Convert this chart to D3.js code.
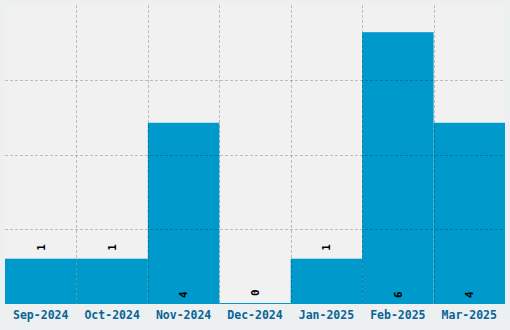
<!DOCTYPE html>
<html>
<head>
<meta charset="utf-8">
<script src="https://cdn.jsdelivr.net/npm/d3@7"></script>
<style>
  body { margin: 0; background: #ecf0f1; }
  #chart { width: 510px; height: 330px; }
</style>
</head>
<body>
<div id="chart"></div>
<script>
const months = ['Sep-2024', 'Oct-2024', 'Nov-2024', 'Dec-2024', 'Jan-2025', 'Feb-2025', 'Mar-2025'];
const counts = [1, 1, 4, 0, 1, 6, 4];

const width = 510;
const height = 330;
const plot = { left: 5, right: 505, top: 5, bottom: 304 };

const svg = d3.select('#chart')
  .append('svg')
  .attr('width', width)
  .attr('height', height);

svg.append('rect')
  .attr('width', width)
  .attr('height', height)
  .attr('fill', '#ecf0f1');

svg.append('rect')
  .attr('x', plot.left)
  .attr('y', plot.top)
  .attr('width', plot.right - plot.left)
  .attr('height', plot.bottom - plot.top)
  .attr('fill', '#f1f1f1');

const xScale = d3.scaleBand()
  .domain(months)
  .range([plot.left, plot.right])
  .padding(0);

const yMax = d3.max(counts) * 1.1;
const yScale = d3.scaleLinear()
  .domain([0, yMax])
  .range([plot.bottom, plot.top]);

const data = months.map((m, i) => ({ month: m, value: counts[i] }));

// bars, full category width
svg.append('g')
  .selectAll('rect')
  .data(data)
  .join('rect')
  .attr('x', (d) => xScale(d.month))
  .attr('width', xScale.bandwidth())
  .attr('y', (d) => Math.min(yScale(d.value), plot.bottom - 1))
  .attr('height', (d) => Math.max(plot.bottom - yScale(d.value), 1))
  .attr('fill', '#0099cc');

// grid on top of the bars
const grid = svg.append('g')
  .attr('stroke', 'rgba(0,0,0,0.22)')
  .attr('stroke-width', 1)
  .attr('stroke-dasharray', '3,2');

const yTicks = d3.range(1, 4).map((k) => (yMax * k) / 4);
grid.selectAll('.hline')
  .data(yTicks)
  .join('line')
  .attr('class', 'hline')
  .attr('x1', plot.left)
  .attr('x2', plot.right)
  .attr('y1', (d) => Math.round(yScale(d)) + 0.5)
  .attr('y2', (d) => Math.round(yScale(d)) + 0.5);

grid.selectAll('.vline')
  .data(months.slice(1))
  .join('line')
  .attr('class', 'vline')
  .attr('x1', (d) => Math.round(xScale(d)) + 0.5)
  .attr('x2', (d) => Math.round(xScale(d)) + 0.5)
  .attr('y1', plot.top)
  .attr('y2', plot.bottom);

// value labels, rotated; small bars get the label above
svg.append('g')
  .selectAll('text')
  .data(data)
  .join('text')
  .attr('transform', (d) => {
    const cx = xScale(d.month) + xScale.bandwidth() / 2;
    const barH = plot.bottom - yScale(d.value);
    const y = barH > 80 ? plot.bottom - 6 : yScale(d.value) - 8;
    return 'translate(' + cx + ',' + y + ') rotate(-90)';
  })
  .attr('dy', '0.35em')
  .attr('text-anchor', 'start')
  .attr('font-family', 'DejaVu Sans Mono, monospace')
  .attr('font-weight', 'bold')
  .attr('font-size', '11px')
  .attr('fill', '#000')
  .text((d) => d.value);

// category labels
svg.append('g')
  .selectAll('text')
  .data(months)
  .join('text')
  .attr('x', (d) => xScale(d) + xScale.bandwidth() / 2)
  .attr('y', 315)
  .attr('dy', '0.35em')
  .attr('text-anchor', 'middle')
  .attr('font-family', 'DejaVu Sans Mono, monospace')
  .attr('font-weight', 'bold')
  .attr('font-size', '11.5px')
  .attr('fill', '#0a6496')
  .text((d) => d);
</script>
</body>
</html>
